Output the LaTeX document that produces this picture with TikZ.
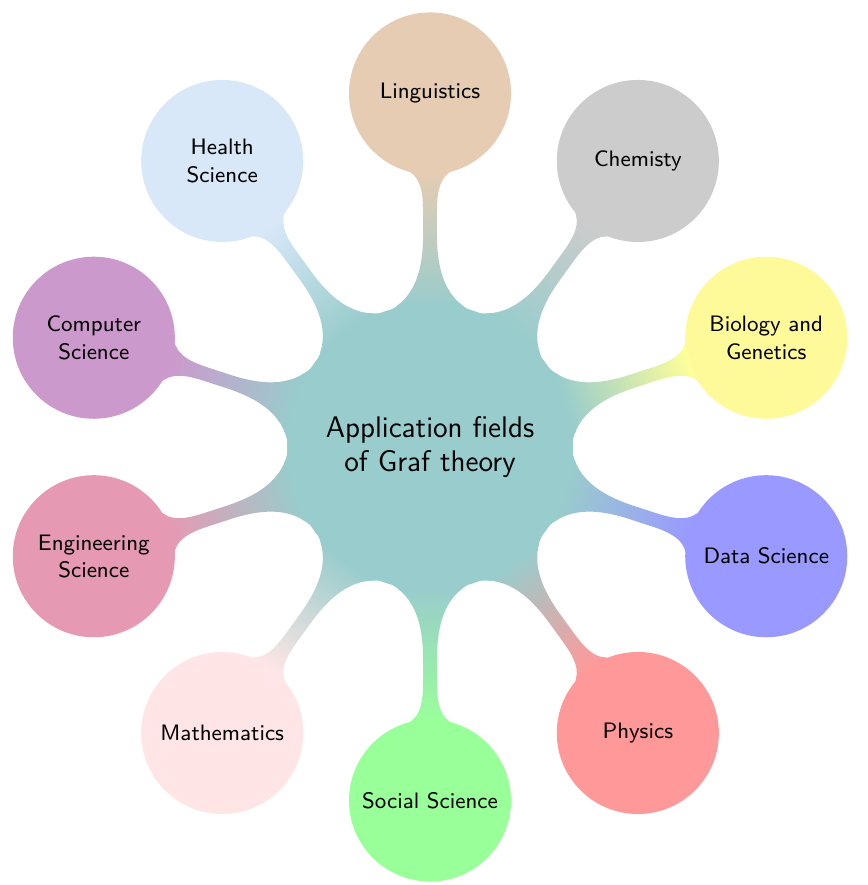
\documentclass[tikz,border=0pt]{standalone}
\usetikzlibrary{mindmap}
\renewcommand{\familydefault}{\sfdefault}
\definecolor{healthblue}{RGB}{216,232,248}
\begin{document}
\begin{tikzpicture}[mindmap, grow cyclic, concept color=teal!40,
  every node/.style={concept},
  level 1/.append style={level distance=5cm, sibling angle=36}]
\useasboundingbox (-6.082,-6.195) rectangle (6.181,6.322);
\node[root concept] (root) {Application fields of Graf theory}
  [clockwise from=90]
  child[concept color=brown!40] {node[concept] (ling) {Linguistics}}
  child[concept color=gray!40] {node[concept] (chem) {Chemisty}}
  child[concept color=yellow!40] {node[concept] (bio) {Biology and Genetics}}
  child[concept color=blue!40] {node[concept] (data) {Data Science}}
  child[concept color=red!40] {node[concept] (phys) {Physics}}
  child[concept color=green!40] {node[concept] (soc) {Social Science}}
  child[concept color=pink!40] {node[concept] (math) {Mathematics}}
  child[concept color=purple!40] {node[concept] (eng) {Engineering Science}}
  child[concept color=violet!40] {node[concept] (comp) {Computer Science}}
  child[concept color=healthblue] {node[concept] (health) {Health Science}};
\end{tikzpicture}
\end{document}
